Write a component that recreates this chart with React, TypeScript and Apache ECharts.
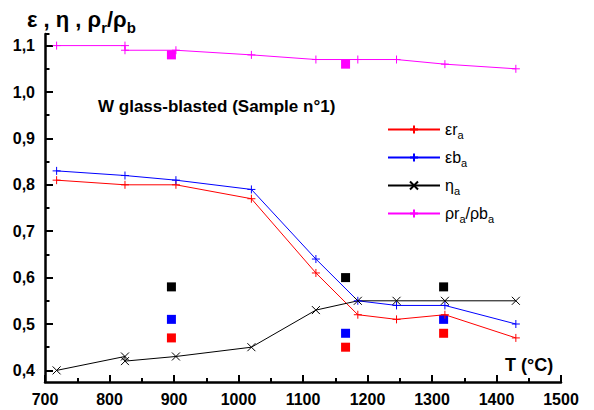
import React, { useEffect, useRef } from "react";
import * as echarts from "echarts";

const FONT = "'Liberation Sans', Arial, sans-serif";

// Main curves
const tempsMain = [718, 824, 903, 1020, 1120, 1185, 1245, 1320, 1430];
const epsR = [0.81, 0.80, 0.80, 0.77, 0.61, 0.52, 0.51, 0.52, 0.47];
const epsB = [0.83, 0.82, 0.81, 0.79, 0.64, 0.55, 0.54, 0.54, 0.50];
const tempsDup = [718, 824, 824, 903, 1020, 1120, 1185, 1245, 1320, 1430];
const eta = [0.40, 0.43, 0.42, 0.43, 0.45, 0.53, 0.55, 0.55, 0.55, 0.55];
const rhoRatio = [1.10, 1.10, 1.09, 1.09, 1.08, 1.07, 1.07, 1.07, 1.06, 1.05];

// Square markers
const sqTemps = [896, 1166, 1318];
const sqEta = [0.58, 0.60, 0.58];
const sqEpsB = [0.51, 0.48, 0.51];
const sqEpsR = [0.47, 0.45, 0.48];
const sqRhoTemps = [896, 1166];
const sqRho = [1.08, 1.06];

// Axis ticks
const yLabels = [0.4, 0.5, 0.6, 0.7, 0.8, 0.9, 1.0, 1.1];
const yMinor = [0.45, 0.55, 0.65, 0.75, 0.85, 0.95, 1.05, 1.125];

const legendNames = ["er", "eb", "eta", "rho"];
const legendText: Record<string, string> = {
  er: "{n|εr}{s|a}",
  eb: "{n|εb}{s|a}",
  eta: "{n|η}{s|a}",
  rho: "{n|ρr}{s|a}{n|/ρb}{s|a}",
};

const PLUS = "path://M5,0L5,10M0,5L10,5";
const CROSS = "path://M0,0L10,10M10,0L0,10";

const zip = (xs: number[], ys: number[]) => xs.map((x, i) => [x, ys[i]]);

function lineSeries(name: string, xs: number[], ys: number[], color: string, symbol: string) {
  return {
    name,
    type: "line",
    data: zip(xs, ys),
    symbol,
    symbolSize: 8,
    lineStyle: { color, width: 1 },
    itemStyle: { color, borderColor: color, borderWidth: 1 },
    emphasis: { disabled: true },
    z: 3,
  };
}

function squareSeries(xs: number[], ys: number[], color: string) {
  return {
    type: "scatter",
    data: zip(xs, ys),
    symbol: "rect",
    symbolSize: 9,
    itemStyle: { color, opacity: 1 },
    emphasis: { disabled: true },
    z: 2,
  };
}

export default function App() {
  const ref = useRef<HTMLDivElement>(null);
  useEffect(() => {
    if (!ref.current) return;
    const chart = echarts.init(ref.current, null, { renderer: "svg" });
    const axisLineStyle = { color: "#000", width: 2.5 };
    const tickStyle = { color: "#000", width: 2 };
    chart.setOption({
      animation: false,
      backgroundColor: "#fff",
      grid: { left: 45, right: 33, top: 34, bottom: 28 },
      xAxis: {
        type: "value",
        min: 700,
        max: 1500,
        interval: 100,
        axisLine: { show: true, onZero: false, lineStyle: axisLineStyle },
        axisTick: { show: true, inside: true, length: 7, lineStyle: tickStyle },
        minorTick: { show: true, splitNumber: 2, length: 4, lineStyle: tickStyle },
        axisLabel: {
          formatter: (v: number) => String(v),
          fontSize: 16,
          fontWeight: "bold",
          color: "#000",
          margin: 9,
          fontFamily: FONT,
        },
        splitLine: { show: false },
        minorSplitLine: { show: false },
      },
      yAxis: [
        {
          type: "value",
          min: 0.375,
          max: 1.125,
          axisLine: { show: true, onZero: false, lineStyle: axisLineStyle },
          axisTick: { show: true, inside: true, length: 8, lineStyle: tickStyle, customValues: yLabels },
          axisLabel: {
            customValues: yLabels,
            formatter: (v: number) => v.toFixed(1).replace(".", ","),
            fontSize: 16,
            fontWeight: "bold",
            color: "#000",
            margin: 10,
            fontFamily: FONT,
          },
          splitLine: { show: false },
        },
        {
          type: "value",
          min: 0.375,
          max: 1.125,
          position: "left",
          offset: 0,
          axisLine: { show: false },
          axisTick: { show: true, inside: true, length: 4.5, lineStyle: tickStyle, customValues: yMinor },
          axisLabel: { show: false },
          splitLine: { show: false },
        },
      ],
      legend: {
        orient: "vertical",
        left: 382,
        top: 114,
        itemWidth: 52,
        itemHeight: 10,
        itemGap: 7,
        data: legendNames,
        formatter: (name: string) => legendText[name],
        textStyle: {
          color: "#000",
          fontFamily: FONT,
          rich: {
            n: { fontSize: 16, lineHeight: 18, fontFamily: FONT, color: "#000" },
            s: { fontSize: 11, lineHeight: 11, padding: [10, 0, 0, 0], fontFamily: FONT, color: "#000" },
          },
        },
      },
      graphic: [
        {
          type: "text",
          left: 27,
          top: 3,
          style: {
            text: "{m|ε , η , ρ}{s|r}{m|/ρ}{s|b}",
            fill: "#000",
            rich: {
              m: { fontSize: 22, fontWeight: "bold", lineHeight: 28, fontFamily: FONT },
              s: { fontSize: 15, fontWeight: "bold", lineHeight: 15, padding: [17, 0, 0, 0], fontFamily: FONT },
            },
          },
        },
        {
          type: "text",
          x: 98,
          y: 106,
          style: {
            text: "W glass-blasted (Sample n°1)",
            font: `bold 17px ${FONT}`,
            verticalAlign: "middle",
            fill: "#000",
          },
        },
        {
          type: "text",
          x: 505,
          y: 365,
          style: {
            text: "T (°C)",
            font: `bold 18px ${FONT}`,
            verticalAlign: "middle",
            fill: "#000",
          },
        },
      ],
      series: [
        lineSeries("er", tempsMain, epsR, "#ff0000", PLUS),
        lineSeries("eb", tempsMain, epsB, "#0000ff", PLUS),
        lineSeries("eta", tempsDup, eta, "#000000", CROSS),
        lineSeries("rho", tempsDup, rhoRatio, "#ff00ff", PLUS),
        squareSeries(sqTemps, sqEta, "#000000"),
        squareSeries(sqTemps, sqEpsB, "#0000ff"),
        squareSeries(sqTemps, sqEpsR, "#ff0000"),
        squareSeries(sqRhoTemps, sqRho, "#ff00ff"),
      ],
    });
    return () => chart.dispose();
  }, []);
  return (
    <div
      ref={ref}
      style={{ position: "fixed", left: 0, top: 0, width: 594, height: 410, background: "#fff" }}
    />
  );
}
